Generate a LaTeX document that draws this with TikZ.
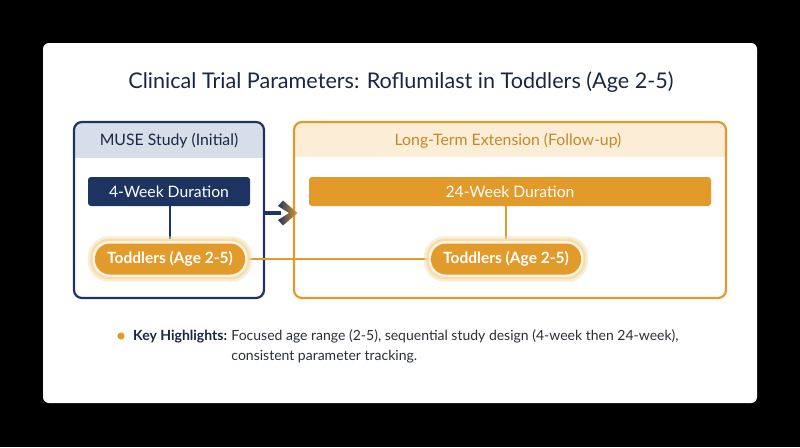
\documentclass[tikz,border=0pt]{standalone}
\usepackage{fontspec}
\setmainfont{Lato}
\usetikzlibrary{calc,shadings}
\definecolor{navy}{HTML}{1D3461}
\definecolor{orng}{HTML}{E29B2B}
\definecolor{navyhdr}{HTML}{D8DEE9}
\definecolor{orhdr}{HTML}{FBEDD6}
\definecolor{ortxt}{HTML}{C28A2C}
\definecolor{titlec}{HTML}{1A2744}
\definecolor{bodyc}{HTML}{2A2F3A}
\definecolor{glowA}{HTML}{F7DDA8}
\definecolor{glowB}{HTML}{FDF3E0}
\tikzset{
  studybox/.style={draw=#1, line width=2.2pt, rounded corners=8pt, inner sep=0pt},
  durbox/.style={fill=#1, rounded corners=3pt, text=white, font=\fontsize{15.7}{18}\selectfont, inner sep=0pt, minimum height=29pt},
  pill/.style={fill=orng, rounded corners=15pt, text=white, font=\bfseries\fontsize{15.5}{18}\selectfont, minimum width=150pt, minimum height=31pt, inner sep=0pt},
  hdrtext/.style={font=\fontsize{15.8}{18}\selectfont},
  link/.style={line width=1.7pt}
}
\newcommand{\glowpill}[1]{%
  \fill[orng!35, opacity=0.5, rounded corners=21pt] ($(#1.south west)+(-7pt,-7pt)$) rectangle ($(#1.north east)+(7pt,7pt)$);
  \fill[glowA, rounded corners=19pt] ($(#1.south west)+(-4.5pt,-4.5pt)$) rectangle ($(#1.north east)+(4.5pt,4.5pt)$);
  \fill[glowB, rounded corners=17pt] ($(#1.south west)+(-2.2pt,-2.2pt)$) rectangle ($(#1.north east)+(2.2pt,2.2pt)$);
}
\begin{document}
\begin{tikzpicture}[x=1pt,y=-1pt]
\useasboundingbox (0,0) rectangle (800,447);
\fill[black] (0,0) rectangle (800,447);
\fill[white, rounded corners=6pt] (43,43) rectangle (757,403);

\node[text=titlec, font=\fontsize{21.6}{26}\selectfont] (title) at (401,82) {Clinical Trial Parameters: Roflumilast in Toddlers (Age 2-5)};

% left study box
\begin{scope}
  \clip[rounded corners=8pt] (74,122) rectangle (264,298);
  \fill[navyhdr] (74,122) rectangle (264,158);
\end{scope}
\node[studybox=navy, minimum width=190pt, minimum height=176pt] (muse) at (169,210) {};
\node[hdrtext, text=titlec] (museh) at (169,141) {MUSE Study (Initial)};

% right study box
\begin{scope}
  \clip[rounded corners=8pt] (294,122) rectangle (726,298);
  \fill[orhdr] (294,122) rectangle (726,157);
\end{scope}
\node[studybox=orng, minimum width=432pt, minimum height=176pt] (lte) at (510,210) {};
\node[hdrtext, text=ortxt] (lteh) at (508,141) {Long-Term Extension (Follow-up)};

% duration boxes
\node[durbox=navy, minimum width=162pt] (wk4) at (169,191.5) {4-Week Duration};
\node[durbox=orng, minimum width=402pt] (wk24) at (510,191.5) {24-Week Duration};

% pills
\node[pill, opacity=0] (tod1) at (170,259) {Toddlers (Age 2-5)};
\node[pill, opacity=0] (tod2) at (506,259) {Toddlers (Age 2-5)};

% connectors
\draw[link, orng] (tod1.east) -- (tod2.west);
\draw[link, navy] (wk4.south -| tod1.north) -- (tod1.north);
\draw[link, orng] (wk24.south -| tod2.north) -- (tod2.north);

\glowpill{tod1}
\glowpill{tod2}
\node[pill] at (tod1) {Toddlers (Age 2-5)};
\node[pill] at (tod2) {Toddlers (Age 2-5)};

% arrow between studies
\coordinate (ay) at (0,213);
\draw[navy, line width=4pt] (muse.east |- ay) -- ($(muse.east |- ay)+(16,0)$);
\shade[left color=navy, right color=orng] (278,206) -- (283,200.5) -- (297.5,213) -- (283,225.5) -- (278,220) -- (289,213) -- cycle;

% highlights
\fill[orng] (121,336) circle (3.6pt);
\node[anchor=west, font=\bfseries\fontsize{14}{16}\selectfont, text=titlec, inner sep=0pt] (kh) at (133,336.5) {Key Highlights:};
\node[anchor=north west, font=\fontsize{14}{19.5}\selectfont, text=bodyc, inner sep=0pt, align=left] (khtext) at ($(kh.north east)+(4,0)$) {Focused age range (2-5), sequential study design (4-week then 24-week),\\consistent parameter tracking.};
\end{tikzpicture}
\end{document}
